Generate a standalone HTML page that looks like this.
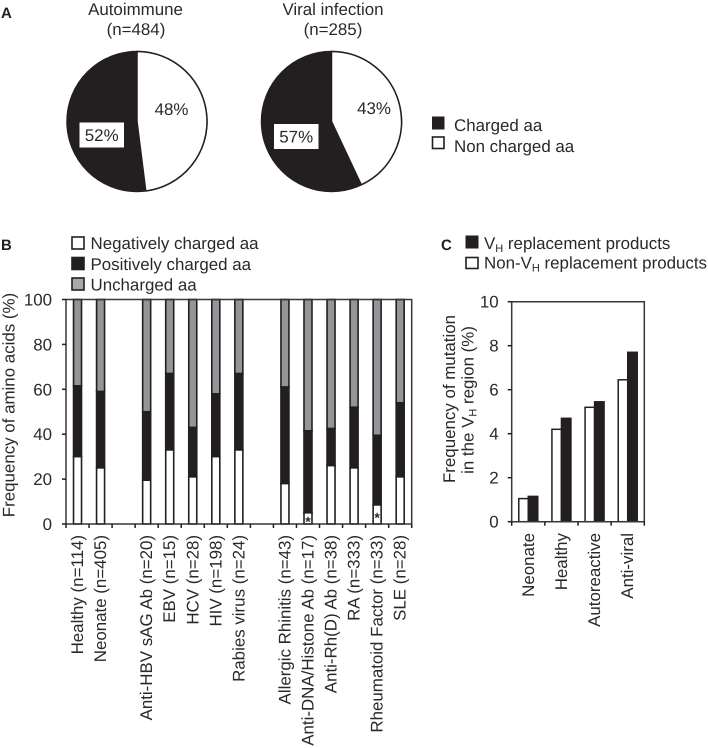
<!DOCTYPE html>
<html>
<head>
<meta charset="utf-8">
<title>Amino acid charge and VH mutation figure</title>
<style>
html,body{margin:0;padding:0;background:#fff;width:708px;height:748px;overflow:hidden}
svg{display:block}
text{font-family:"Liberation Sans",Arial,sans-serif;fill:#2b2829;font-size:16.9px;text-rendering:geometricPrecision}
.panel{font-weight:bold;font-size:15px;fill:#231f20}
.sub{font-size:11px}
</style>
</head>
<body>
<svg id="fig" xmlns="http://www.w3.org/2000/svg" width="708" height="748" viewBox="0 0 708 748">
  <text class="panel" x="1" y="18">A</text>
  <text class="panel" x="1" y="250">B</text>
  <text class="panel" x="441" y="250">C</text>

  <text x="135.5" y="15" text-anchor="middle">Autoimmune</text>
  <text x="136" y="35" text-anchor="middle">(n=484)</text>
  <text x="333" y="15" text-anchor="middle">Viral infection</text>
  <text x="333" y="35" text-anchor="middle">(n=285)</text>

  <g>
    <rect x="432.5" y="117" width="11.5" height="12" fill="#231f20" stroke="#231f20"/>
    <text x="454" y="131">Charged aa</text>
    <rect x="432.5" y="137" width="11.5" height="11.5" fill="#fff" stroke="#231f20" stroke-width="1.6"/>
    <text x="454" y="152">Non charged aa</text>
  </g>

  <g>
    <rect x="72" y="237" width="12" height="12" fill="#fff" stroke="#231f20" stroke-width="1.6"/>
    <text x="90.5" y="249">Negatively charged aa</text>
    <rect x="72" y="257.5" width="12" height="12" fill="#231f20" stroke="#231f20" stroke-width="1.6"/>
    <text x="90.5" y="270">Positively charged aa</text>
    <rect x="72" y="278" width="12" height="12" fill="#a7a9ac" stroke="#231f20" stroke-width="1.6"/>
    <text x="90.5" y="290.5">Uncharged aa</text>
  </g>

  <text transform="translate(14.5,405) rotate(-90)" text-anchor="middle">Frequency of amino acids (%)</text>

  <g>
    <rect x="466" y="236" width="12" height="12" fill="#231f20" stroke="#231f20"/>
    <text x="484" y="249">V<tspan class="sub" dy="3">H</tspan><tspan dy="-3"> replacement products</tspan></text>
    <rect x="466" y="257.5" width="12" height="11" fill="#fff" stroke="#231f20" stroke-width="1.6"/>
    <text x="484" y="268.5">Non-V<tspan class="sub" dy="3">H</tspan><tspan dy="-3"> replacement products</tspan></text>
  </g>

  <text transform="translate(455,399) rotate(-90)" text-anchor="middle">Frequency of mutation</text>
  <text transform="translate(473.5,400) rotate(-90)" text-anchor="middle">in the V<tspan class="sub" dy="3">H</tspan><tspan dy="-3"> region (%)</tspan></text>

  <g id="pies"></g>
  <g id="chartB"></g>
  <g id="chartC"></g>
</svg>
<script>
var pieWhiteShares = [48, 43];
var pieDarkShares = [52, 57];
var pieKeys = ['autoimmune', 'viral'];

var bCategories = ['Healthy (n=114)', 'Neonate (n=405)', '', 'Anti-HBV sAG Ab (n=20)', 'EBV (n=15)', 'HCV (n=28)', 'HIV (n=198)', 'Rabies virus (n=24)', '', 'Allergic Rhinitis (n=43)', 'Anti-DNA/Histone Ab (n=17)', 'Anti-Rh(D) Ab (n=38)', 'RA (n=333)', 'Rheumatoid Factor (n=33)', 'SLE (n=28)'];
var bNegative = [30, 25, null, 19.5, 33, 21, 30, 33, null, 18, 5, 26, 25, 8.5, 21];
var bPositive = [31.5, 34, null, 30.5, 34, 22, 28, 34, null, 43, 36.5, 16.5, 27, 31, 33];
var bUncharged = [38.5, 41, null, 50, 33, 57, 42, 33, null, 39, 58.5, 57.5, 48, 60.5, 46];
var bStarred = [false, false, false, false, false, false, false, false, false, false, true, false, false, true, false];
var bTicks = [0, 20, 40, 60, 80, 100];

var cCategories = ['Neonate', 'Healthy', 'Autoreactive', 'Anti-viral'];
var cNonVh = [1.05, 4.2, 5.2, 6.45];
var cVh = [1.15, 4.7, 5.45, 7.7];
var cTicks = [0, 2, 4, 6, 8, 10];

var NS = 'http://www.w3.org/2000/svg';
var INK = '#231f20';
function mk(parent, tag, attrs, txt) {
  var n = document.createElementNS(NS, tag);
  for (var k in attrs) n.setAttribute(k, attrs[k]);
  if (txt !== undefined) n.textContent = txt;
  parent.appendChild(n);
  return n;
}

/* ---------- Panel A ---------- */
var pies = document.getElementById('pies');
var pieCx = [137, 331.5], pieCy = 121.5, pieR = 70;
var whiteLabelPos = [[171.5, 115], [374, 114]];
var boxPos = [[79.5, 122.5], [274, 124]];
pieWhiteShares.forEach(function (share, i) {
  var cx = pieCx[i];
  var a = share / (share + pieDarkShares[i]) * 2 * Math.PI;
  var ex = cx + pieR * Math.sin(a), ey = pieCy - pieR * Math.cos(a);
  var dark = mk(pies, 'circle', {cx: cx, cy: pieCy, r: pieR, fill: INK, stroke: INK, 'stroke-width': 1.5});
  
  
  var large = a > Math.PI ? 1 : 0;
  var white = mk(pies, 'path', {d: 'M' + cx + ' ' + pieCy + 'L' + cx + ' ' + (pieCy - pieR) + 'A' + pieR + ' ' + pieR + ' 0 ' + large + ' 1 ' + ex + ' ' + ey + 'Z', fill: '#fff', stroke: INK, 'stroke-width': 1.5});
  
  
  var wl = mk(pies, 'text', {x: whiteLabelPos[i][0], y: whiteLabelPos[i][1], 'text-anchor': 'middle'}, share + '%');
  
  
  var box = mk(pies, 'rect', {x: boxPos[i][0], y: boxPos[i][1], width: 44.5, height: 25, fill: '#fff'});
  
  
  var dl = mk(pies, 'text', {x: boxPos[i][0] + 22.2, y: boxPos[i][1] + 18.5, 'text-anchor': 'middle'}, pieDarkShares[i] + '%');
  
  
});

/* ---------- Panel B ---------- */
var gB = document.getElementById('chartB');
var bLeft = 66, bRight = 411.7, bTop = 299.5, bBottom = 524;
var bStep = (bRight - bLeft) / bCategories.length, bBarW = 8;
function by(v) { return bBottom - (bBottom - bTop) * v / 100; }
function bx(i) { return bLeft + bStep * (i + 0.5); }

bCategories.forEach(function (cat, i) {
  if (bNegative[i] === null) return;
  var x = bx(i) - bBarW / 2;
  var n = bNegative[i], p = bPositive[i], u = bUncharged[i];
  var unch = mk(gB, 'rect', {x: x, y: by(n + p + u), width: bBarW, height: by(n + p) - by(n + p + u), fill: '#939598', stroke: INK, 'stroke-width': 1.6});
  
  
  var pos = mk(gB, 'rect', {x: x, y: by(n + p), width: bBarW, height: by(n) - by(n + p), fill: INK, stroke: INK, 'stroke-width': 1.6});
  
  
  var neg = mk(gB, 'rect', {x: x, y: by(n), width: bBarW, height: by(0) - by(n), fill: '#fff', stroke: INK, 'stroke-width': 1.6});
  
  
  if (bStarred[i]) {
    var star = mk(gB, 'text', {x: bx(i), y: by(n / 2) + 8, 'text-anchor': 'middle', style: 'font-size:14px;font-weight:bold'}, '*');
    
    
  }
});

var bFrame = mk(gB, 'path', {d: 'M' + bLeft + ' ' + bBottom + 'V' + bTop + 'H' + bRight + 'V' + bBottom + 'H' + bLeft, fill: 'none', stroke: '#3a3738', 'stroke-width': 1.5});



bTicks.forEach(function (t) {
  var tick = mk(gB, 'line', {x1: bLeft - 4, x2: bLeft, y1: by(t), y2: by(t), stroke: INK, 'stroke-width': 1.5});
  
  
  var lab = mk(gB, 'text', {x: bLeft - 14, y: by(t) + 6, 'text-anchor': 'end'}, t);
  
  
});

for (var bi = 0; bi <= bCategories.length; bi++) {
  var bt = mk(gB, 'line', {x1: bLeft + bStep * bi, x2: bLeft + bStep * bi, y1: bBottom, y2: bBottom + 4, stroke: INK, 'stroke-width': 1.5});
  
  
}

bCategories.forEach(function (cat, i) {
  if (!cat) return;
  var lab = mk(gB, 'text', {transform: 'translate(' + (bx(i) + 5.5) + ',535) rotate(-90)', 'text-anchor': 'end'}, cat);
  
  
});

/* ---------- Panel C ---------- */
var gC = document.getElementById('chartC');
var cLeft = 511.7, cRight = 644.3, cTop = 301.7, cBottom = 521.7;
var cStep = (cRight - cLeft) / cCategories.length, cBarW = 9.5;
function cy(v) { return cBottom - (cBottom - cTop) * v / 10; }
function cx(i) { return cLeft + cStep * (i + 0.5); }

cCategories.forEach(function (cat, i) {
  var w = mk(gC, 'rect', {x: cx(i) - cBarW, y: cy(cNonVh[i]), width: cBarW, height: cBottom - cy(cNonVh[i]), fill: '#fff', stroke: INK, 'stroke-width': 1.5});
  
  
  var b = mk(gC, 'rect', {x: cx(i), y: cy(cVh[i]), width: cBarW, height: cBottom - cy(cVh[i]), fill: INK, stroke: INK, 'stroke-width': 1.5});
  
  
  var lab = mk(gC, 'text', {transform: 'translate(' + (cx(i) + 5.5) + ',533) rotate(-90)', 'text-anchor': 'end'}, cat);
  
  
});

var cFrame = mk(gC, 'path', {d: 'M' + cLeft + ' ' + cBottom + 'V' + cTop + 'H' + cRight + 'V' + cBottom + 'H' + cLeft, fill: 'none', stroke: '#3a3738', 'stroke-width': 1.5});



cTicks.forEach(function (t) {
  var tick = mk(gC, 'line', {x1: cLeft - 4, x2: cLeft, y1: cy(t), y2: cy(t), stroke: INK, 'stroke-width': 1.5});
  
  
  var lab = mk(gC, 'text', {x: cLeft - 13, y: cy(t) + 6, 'text-anchor': 'end'}, t);
  
  
});

for (var ci = 0; ci <= cCategories.length; ci++) {
  var ct = mk(gC, 'line', {x1: cLeft + cStep * ci, x2: cLeft + cStep * ci, y1: cBottom, y2: cBottom + 4, stroke: INK, 'stroke-width': 1.5});
  
  
}
</script>
</body>
</html>
